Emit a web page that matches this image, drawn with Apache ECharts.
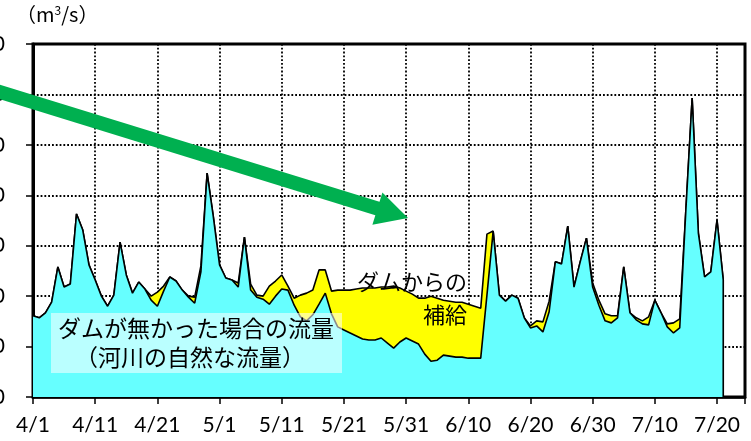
<!DOCTYPE html>
<html><head><meta charset="utf-8">
<script src="https://cdn.jsdelivr.net/npm/echarts@6/dist/echarts.min.js"></script>
<style>html,body{margin:0;padding:0;background:#fff}#c{width:751px;height:441px}</style>
</head><body><div id="c"></div>
<script>
// x tick labels (every 10 days from 4/1)
const tickLabels = ['4/1','4/11','4/21','5/1','5/11','5/21','5/31','6/10','6/20','6/30','7/10','7/20'];
const yTicks = [0,10,20,30,40,50,60,70];
// natural river flow (no dam), daily from 4/1
const natural = [
16.1,15.7,16.7,18.8,25.8,21.8,22.4,36.3,33.1,26.2,
23.2,20.0,18.0,20.2,30.7,24.2,20.6,22.8,21.4,19.2,
18.0,21.0,23.8,23.0,21.2,19.8,18.6,24.8,44.4,35.7,
26.2,23.6,23.2,21.8,31.7,21.2,19.8,19.4,18.4,20.0,
21.4,21.2,18.2,15.9,15.1,16.3,18.4,20.6,16.5,13.9,
13.3,12.7,12.1,11.5,11.3,11.3,11.7,10.7,9.7,10.9,
11.7,11.1,10.5,8.5,7.1,7.3,8.3,8.1,7.9,7.9,
7.7,7.7,7.7,20.2,32.9,20.2,19.0,20.2,19.6,15.7,
13.7,14.1,12.9,16.9,26.8,26.4,33.9,21.8,26.8,31.5,
21.8,18.2,15.1,14.7,15.7,25.8,16.7,15.3,14.5,14.3,
19.2,16.7,13.9,12.7,13.7,37.3,59.3,32.5,23.8,24.8,
35.1,23.2];
// flow including dam supply
const withDam = [
16.1,15.7,16.7,18.8,25.8,21.8,22.4,36.3,33.1,26.2,
23.2,20.0,18.0,20.2,30.7,24.2,20.6,22.8,21.4,20.0,
20.8,22.0,23.8,23.0,21.2,20.0,19.8,26.0,44.4,35.7,
26.2,23.6,23.2,22.6,31.7,22.4,20.2,20.0,22.0,23.0,
24.2,22.0,19.6,20.2,20.6,21.2,25.2,25.2,21.0,21.2,
21.2,21.2,21.4,21.6,21.6,21.6,21.8,21.8,22.0,21.6,
21.0,20.4,19.6,19.6,20.0,19.6,19.2,19.0,18.8,18.8,
18.4,18.0,17.6,32.3,32.9,20.2,19.0,20.2,19.6,15.7,
14.1,15.1,14.9,19.0,26.8,26.4,33.9,21.8,26.8,31.5,
22.6,19.2,16.5,16.1,16.1,25.8,16.7,15.7,15.1,15.9,
19.2,16.7,14.5,14.7,15.5,37.3,59.3,32.5,23.8,24.8,
35.1,23.2];

function pairs(arr){
  const p = arr.map((v,i)=>[i,v]);
  p.push([arr.length-1, 0]);
  return p;
}
const dotted = {color:'#000', width:1.8, type:[1.8,2]};
const latin = 'Lato, "Noto Sans", sans-serif';
const jp = '"Noto Sans CJK JP", sans-serif';

const chart = echarts.init(document.getElementById('c'), null, {renderer:'canvas'});
chart.setOption({
  animation:false,
  backgroundColor:'#fff',
  grid:{left:33, right:6, top:44, bottom:44, show:true, borderColor:'#000', borderWidth:3, outerBoundsMode:'none', containLabel:false},
  xAxis:{
    type:'value', min:0, max:114.5, interval:10,
    axisLine:{show:true, lineStyle:{color:'#000', width:2.5}},
    axisTick:{show:true, inside:false, length:7, lineStyle:{color:'#000', width:1.5}},
    axisLabel:{margin:18, fontSize:21, color:'#000', fontFamily:latin,
      formatter:v => (v % 10 === 0 && tickLabels[v/10]) ? tickLabels[v/10] : ''},
    splitLine:{show:true, lineStyle:dotted}
  },
  yAxis:{
    type:'value', min:yTicks[0], max:yTicks[yTicks.length-1], interval:10,
    axisLine:{show:true, lineStyle:{color:'#000', width:3}},
    axisTick:{show:true, inside:false, length:7, lineStyle:{color:'#000', width:1.5}},
    axisLabel:{margin:28, fontSize:21, color:'#000', fontFamily:latin},
    splitLine:{show:true, lineStyle:dotted}
  },
  series:[
    {type:'line', name:'補給', data:pairs(withDam), symbol:'none', z:2,
     lineStyle:{color:'#000', width:1.6}, areaStyle:{color:'#ffff00', opacity:1}},
    {type:'line', name:'自然流量', data:pairs(natural), symbol:'none', z:3,
     lineStyle:{color:'#000', width:1.6}, areaStyle:{color:'#66ffff', opacity:1}}
  ],
  graphic:[
    {type:'text', left:16, top:4, style:{text:'（m{s|3}/s）', font:'20px '+jp, fill:'#000',
      rich:{s:{fontSize:12, fontFamily:'"Noto Sans CJK JP", sans-serif', verticalAlign:'top', padding:[0,0,8,0]}}}},
    {type:'rect', shape:{x:51, y:313, width:291, height:60}, style:{fill:'rgba(255,255,255,0.55)'}, z:10},
    {type:'text', x:196, y:328, style:{text:'ダムが無かった場合の流量', font:'23px '+jp, fill:'#000', align:'center', verticalAlign:'middle'}, z:11},
    {type:'text', x:190, y:357, style:{text:'（河川の自然な流量）', font:'23px '+jp, fill:'#000', align:'center', verticalAlign:'middle'}, z:11},
    {type:'text', x:412, y:282, style:{text:'ダムからの', font:'22px '+jp, fill:'#000', align:'center', verticalAlign:'middle'}, z:11},
    {type:'text', x:445, y:315, style:{text:'補給', font:'22px '+jp, fill:'#000', align:'center', verticalAlign:'middle'}, z:11},
    {type:'line', shape:{x1:-5, y1:90.5, x2:379, y2:209}, style:{stroke:'#00b050', lineWidth:14}, z:12},
    {type:'polygon', shape:{points:[[408,218],[382.4,192.4],[372.4,224.8]]}, style:{fill:'#00b050'}, z:12}
  ]
});
</script>
</body></html>
